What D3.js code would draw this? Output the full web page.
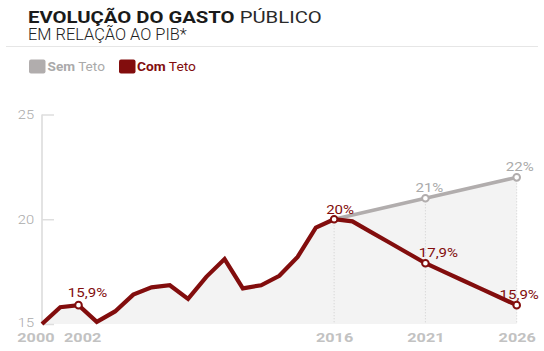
<!DOCTYPE html>
<html>
<head>
<meta charset="utf-8">
<script src="https://cdn.jsdelivr.net/npm/d3@7"></script>
<style>
  body { margin: 0; background: #fff; }
  svg { display: block; font-family: Roboto, "Noto Sans", sans-serif; }
</style>
</head>
<body>
<div id="chart"></div>
<script>
// anos e valores (% do PIB)
var years = d3.range(2000, 2027);
var comTeto = [15.0, 15.8, 15.9, 15.1, 15.6, 16.4, 16.75, 16.85, 16.2, 17.25,
               18.1, 16.7, 16.85, 17.3, 18.2, 19.6, 20.0, 19.9, 19.4, 18.9,
               18.4, 17.9, 17.5, 17.1, 16.7, 16.3, 15.9];
var semTetoYears = [2016, 2021, 2026];
var semTeto = [20, 21, 22];

var yTicks = [15, 20, 25];
var xTicks = [2000, 2002, 2016, 2021, 2026];

// anotações
var redLabels = [[2002, "15,9%"], [2016, "20%"], [2021, "17,9%"], [2026, "15,9%"]];
var grayLabels = [[2021, "21%"], [2026, "22%"]];

var width = 544, height = 351;
var red = "#820d0d", gray = "#b1adad";
var SX = 1.13; // texto um pouco "esticado" na horizontal

var svg = d3.select("#chart").append("svg")
    .attr("width", width)
    .attr("height", height);

var x = d3.scaleLinear().domain([2000, 2026]).range([42, 516.7]);
var y = d3.scaleLinear().domain([15, 25]).range([324, 114.5]);

// esticar um texto até uma largura dada
function fit(t, w) {
  var len = t.node().getComputedTextLength();
  var tr = t.attr("transform");
  t.attr("transform", tr + " scale(" + (w / len) + ",1)");
}

// titulo
var t1 = svg.append("text")
    .attr("transform", "translate(28,23.2)")
    .attr("font-size", 17)
    .attr("fill", "#1a1a1a");
t1.append("tspan").attr("font-weight", 700).text("EVOLUÇÃO DO GASTO ");
t1.append("tspan").attr("font-weight", 400).attr("fill", "#2a2a2a").text("PÚBLICO");
fit(t1, 294);

var t2 = svg.append("text")
    .attr("transform", "translate(28,39.8)")
    .attr("font-size", 16)
    .attr("font-weight", 300)
    .attr("fill", "#222")
    .text("EM RELAÇÃO AO PIB*");
fit(t2, 159);

svg.append("line")
    .attr("x1", 6).attr("x2", 538)
    .attr("y1", 46.5).attr("y2", 46.5)
    .attr("stroke", "#e6e6e6");

// legenda
var legend = [["Sem", " Teto", gray, "#aaa", 29, 47.5, 57.5], ["Com", " Teto", red, red, 119, 137, 59]];
legend.forEach(function(d) {
  svg.append("rect")
      .attr("x", d[4]).attr("y", 59.5)
      .attr("width", 16.5).attr("height", 14)
      .attr("rx", 2)
      .attr("fill", d[2]);
  var lt = svg.append("text")
      .attr("transform", "translate(" + d[5] + ",71.2)")
      .attr("font-size", 13.5)
      .attr("fill", d[3]);
  lt.append("tspan").attr("font-weight", 700).text(d[0]);
  lt.append("tspan").attr("font-weight", 400).text(d[1]);
  fit(lt, d[6]);
});

// area de fundo (envelope das duas séries)
var envelope = years.map(function(yr, i) {
  var v = comTeto[i];
  if (yr > 2016) {
    // linha sem teto entre os pontos conhecidos
    var k = d3.bisectLeft(semTetoYears, yr);
    var y0 = semTetoYears[k - 1], y1 = semTetoYears[k];
    v = Math.max(v, semTeto[k - 1] + (semTeto[k] - semTeto[k - 1]) * (yr - y0) / (y1 - y0));
  }
  return [yr, v];
});

svg.append("path")
    .datum(envelope)
    .attr("fill", "#f3f3f3")
    .attr("d", d3.area()
        .x(function(d) { return x(d[0]); })
        .y0(y(15))
        .y1(function(d) { return y(d[1]); }));

// linhas verticais pontilhadas
[2016, 2021, 2026].forEach(function(yr) {
  var j = semTetoYears.indexOf(yr);
  svg.append("line")
      .attr("x1", x(yr)).attr("x2", x(yr))
      .attr("y1", y(semTeto[j])).attr("y2", y(15))
      .attr("stroke", "#cfcfcf")
      .attr("stroke-dasharray", "1,2");
});

// eixo y
var yAxis = svg.append("g")
    .attr("transform", "translate(42,0)")
    .call(d3.axisLeft(y).tickValues(yTicks).tickSize(-12).tickPadding(7));
yAxis.select(".domain").attr("stroke", "#e3e3e3").attr("stroke-width", 2)
    .attr("d", "M0," + y(25) + "V" + y(15));
yAxis.selectAll(".tick line").attr("stroke", "#dedede").attr("stroke-width", 1.5);
yAxis.selectAll(".tick text")
    .attr("fill", "#aaa")
    .attr("font-size", 13)
    .attr("font-family", "Roboto")
    .attr("font-weight", 300)
    .attr("y", function(d) { return d === 15 ? -2 : 0; })
    .attr("transform", "scale(" + SX + ",1)");

// eixo x
var xAxis = svg.append("g")
    .attr("transform", "translate(0," + y(15) + ")")
    .call(d3.axisBottom(x).tickValues(xTicks).tickFormat(d3.format("d")).tickSize(0).tickPadding(4));
xAxis.select(".domain").remove();
xAxis.selectAll(".tick text")
    .attr("fill", "#c2c2c2")
    .attr("font-size", 13.5)
    .attr("font-weight", 700)
    .attr("font-family", "Roboto")
    .attr("dy", 14)
    .attr("dx", function(d) { return d === 2000 ? -5.5 : (d === 2002 ? 3 : 0); })
    .attr("transform", "scale(" + 1.2 + ",1)");

// linhas
var line = d3.line()
    .x(function(d) { return x(d[0]); })
    .y(function(d) { return y(d[1]); });

svg.append("path")
    .datum(semTetoYears.map(function(yr, i) { return [yr, semTeto[i]]; }))
    .attr("fill", "none")
    .attr("stroke", gray)
    .attr("stroke-width", 3.5)
    .attr("d", line);

svg.append("path")
    .datum(years.map(function(yr, i) { return [yr, comTeto[i]]; }))
    .attr("fill", "none")
    .attr("stroke", red)
    .attr("stroke-width", 4.2)
    .attr("stroke-linejoin", "miter")
    .attr("d", line);

// pontos
grayLabels.forEach(function(d) {
  var j = semTetoYears.indexOf(d[0]);
  svg.append("circle")
      .attr("cx", x(d[0])).attr("cy", y(semTeto[j]))
      .attr("r", 3.3)
      .attr("fill", "#fff")
      .attr("stroke", gray)
      .attr("stroke-width", 2);
});
redLabels.forEach(function(d) {
  var j = years.indexOf(d[0]);
  svg.append("circle")
      .attr("cx", x(d[0])).attr("cy", y(comTeto[j]))
      .attr("r", 3.3)
      .attr("fill", "#fff")
      .attr("stroke", red)
      .attr("stroke-width", 2);
});

// rótulos de valor
var offsets = { "r2002": [9, -8], "r2016": [6, -5], "r2021": [13, -6], "r2026": [2.5, -6],
                "g2021": [4, -6], "g2026": [3, -6] };

function valueLabel(key, px, py, str, col) {
  var o = offsets[key];
  svg.append("text")
      .attr("transform", "translate(" + (px + o[0]) + "," + (py + o[1]) + ") scale(" + SX + ",1)")
      .attr("text-anchor", "middle")
      .attr("font-size", 13.3)
      .attr("fill", col)
      .text(str);
}
redLabels.forEach(function(d) {
  var j = years.indexOf(d[0]);
  valueLabel("r" + d[0], x(d[0]), y(comTeto[j]), d[1], red);
});
grayLabels.forEach(function(d) {
  var j = semTetoYears.indexOf(d[0]);
  valueLabel("g" + d[0], x(d[0]), y(semTeto[j]), d[1], "#aaa");
});
</script>
</body>
</html>
